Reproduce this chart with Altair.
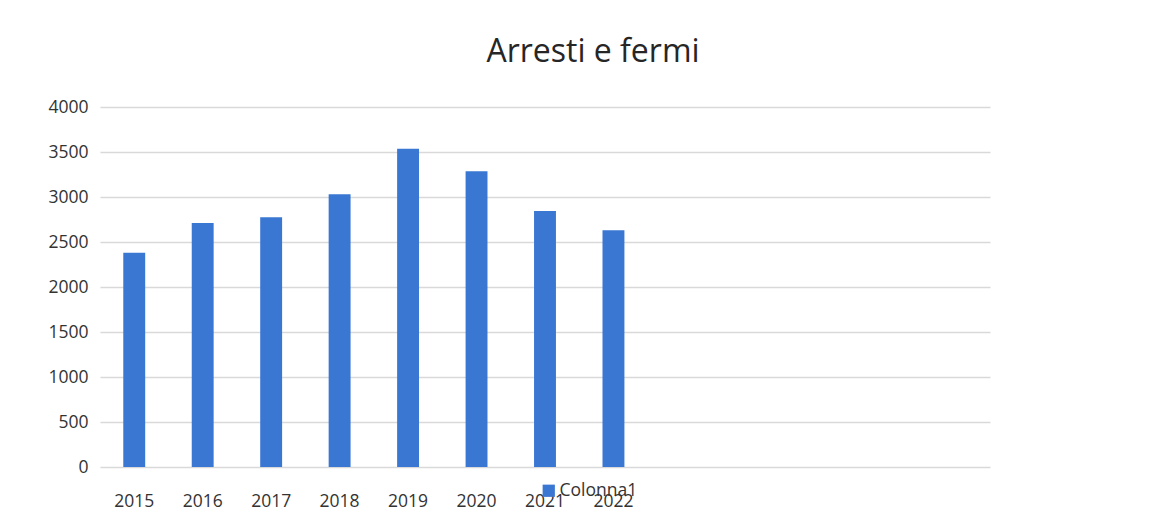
import altair as alt
import pandas as pd

years = ["2015", "2016", "2017", "2018", "2019", "2020", "2021", "2022"]
values = [2380, 2710, 2775, 3030, 3535, 3285, 2845, 2630]
series_name = "Colonna1"
empty_slots = [" ", "  ", "   ", "    ", "     "]
y_ticks = [0, 500, 1000, 1500, 2000, 2500, 3000, 3500, 4000]

df = pd.DataFrame({"anno": years, "valore": values, "serie": [series_name] * len(years)})

FONT = "Open Sans"

chart = alt.Chart(df).mark_bar(color="#3a77d2").encode(
    x=alt.X("anno:N", scale=alt.Scale(domain=years + empty_slots, paddingInner=0.68, paddingOuter=0.34),
            axis=alt.Axis(title=None, labelAngle=0, ticks=False, domain=False, grid=False,
                          labelPadding=25, labelFontSize=17.5, labelColor="#333333", labelFont=FONT)),
    y=alt.Y("valore:Q", scale=alt.Scale(domain=[0, 4000], nice=False),
            axis=alt.Axis(title=None, values=y_ticks, format="d", ticks=False, domain=False,
                          gridColor="#d9d9d9", gridWidth=1.5, labelPadding=12,
                          labelFontSize=17.5, labelColor="#333333", labelFont=FONT)),
    color=alt.Color("serie:N", scale=alt.Scale(range=["#3a77d2"]),
                    legend=alt.Legend(title=None, orient="none", legendX=440, legendY=375,
                                      symbolType="square", symbolSize=150, symbolStrokeWidth=0,
                                      labelFontSize=17.5, labelColor="#333333", labelFont=FONT,
                                      labelOffset=2)),
).properties(
    width=890, height=360,
    background="white",
    title=alt.TitleParams("Arresti e fermi", fontSize=32, font=FONT, fontWeight="normal",
                          color="#262626", anchor="middle", dx=48, offset=29),
    autosize=alt.AutoSizeParams(type="none"),
    padding={"left": 92, "top": 99, "right": 148, "bottom": 52},
).configure_view(strokeWidth=0, stroke=None)

chart.save("out.html", embed_options={"renderer": "svg", "actions": False})
